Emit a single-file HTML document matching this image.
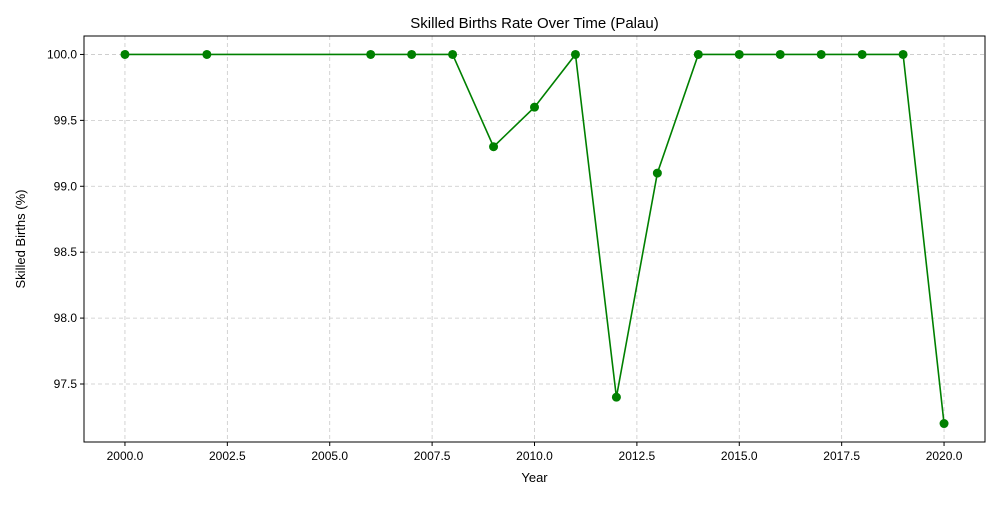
<!DOCTYPE html>
<html><head><meta charset="utf-8"><style>
body{margin:0;background:#fff;font-family:"Liberation Sans","DejaVu Sans",sans-serif;}
</style></head><body>
<svg id="chart" width="1000" height="500" xmlns="http://www.w3.org/2000/svg" font-family="Liberation Sans, DejaVu Sans, sans-serif">
<rect width="1000" height="500" fill="#fff"/>
<g id="grid"></g>
<g id="axes"></g>
<g id="series"></g>
<rect x="84" y="36" width="901" height="406" fill="none" stroke="#000" stroke-width="1"/>
<text x="534.5" y="28" text-anchor="middle" font-size="15">Skilled Births Rate Over Time (Palau)</text>
<text x="534.5" y="482" text-anchor="middle" font-size="13">Year</text>
<text transform="translate(25,239) rotate(-90)" text-anchor="middle" font-size="13">Skilled Births (%)</text>
</svg>
<script>
const years=[2000,2002,2006,2007,2008,2009,2010,2011,2012,2013,2014,2015,2016,2017,2018,2019,2020];
const rates=[100,100,100,100,100,99.3,99.6,100,97.4,99.1,100,100,100,100,100,100,97.2];
const xTicks=[2000,2002.5,2005,2007.5,2010,2012.5,2015,2017.5,2020];
const yTicks=[97.5,98.0,98.5,99.0,99.5,100.0];
const L=84,R=985,T=36,B=442;
const xMin=1999,xMax=2021,yMin=97.06,yMax=100.14;
const sx=v=>L+(v-xMin)/(xMax-xMin)*(R-L);
const sy=v=>B-(v-yMin)/(yMax-yMin)*(B-T);
const NS="http://www.w3.org/2000/svg";
function mk(tag,attrs,parent){const e=document.createElementNS(NS,tag);for(const k in attrs)e.setAttribute(k,attrs[k]);parent.appendChild(e);return e;}
const grid=document.getElementById('grid'),axes=document.getElementById('axes'),series=document.getElementById('series');
xTicks.forEach(t=>{const x=sx(t);
const g=mk('line',{x1:x,x2:x,y1:T,y2:B,stroke:'#c8c8c8','stroke-dasharray':'4,3','stroke-width':0.8},grid);


const tk=mk('line',{x1:x,x2:x,y1:B,y2:B+4,stroke:'#000'},axes);


const lb=mk('text',{x:x,y:B+18,'text-anchor':'middle','font-size':12},axes);lb.textContent=t.toFixed(1);


});
yTicks.forEach(t=>{const y=sy(t);
const g=mk('line',{x1:L,x2:R,y1:y,y2:y,stroke:'#c8c8c8','stroke-dasharray':'4,3','stroke-width':0.8},grid);


const tk=mk('line',{x1:L-4,x2:L,y1:y,y2:y,stroke:'#000'},axes);


const lb=mk('text',{x:L-7,y:y+4,'text-anchor':'end','font-size':12},axes);lb.textContent=t.toFixed(1);


});
const pl=mk('polyline',{points:years.map((y,i)=>sx(y)+','+sy(rates[i])).join(' '),fill:'none',stroke:'#008000','stroke-width':1.6},series);


years.forEach((y,i)=>{const c=mk('circle',{cx:sx(y),cy:sy(rates[i]),r:4.5,fill:'#008000'},series);


});
</script>
</body></html>
